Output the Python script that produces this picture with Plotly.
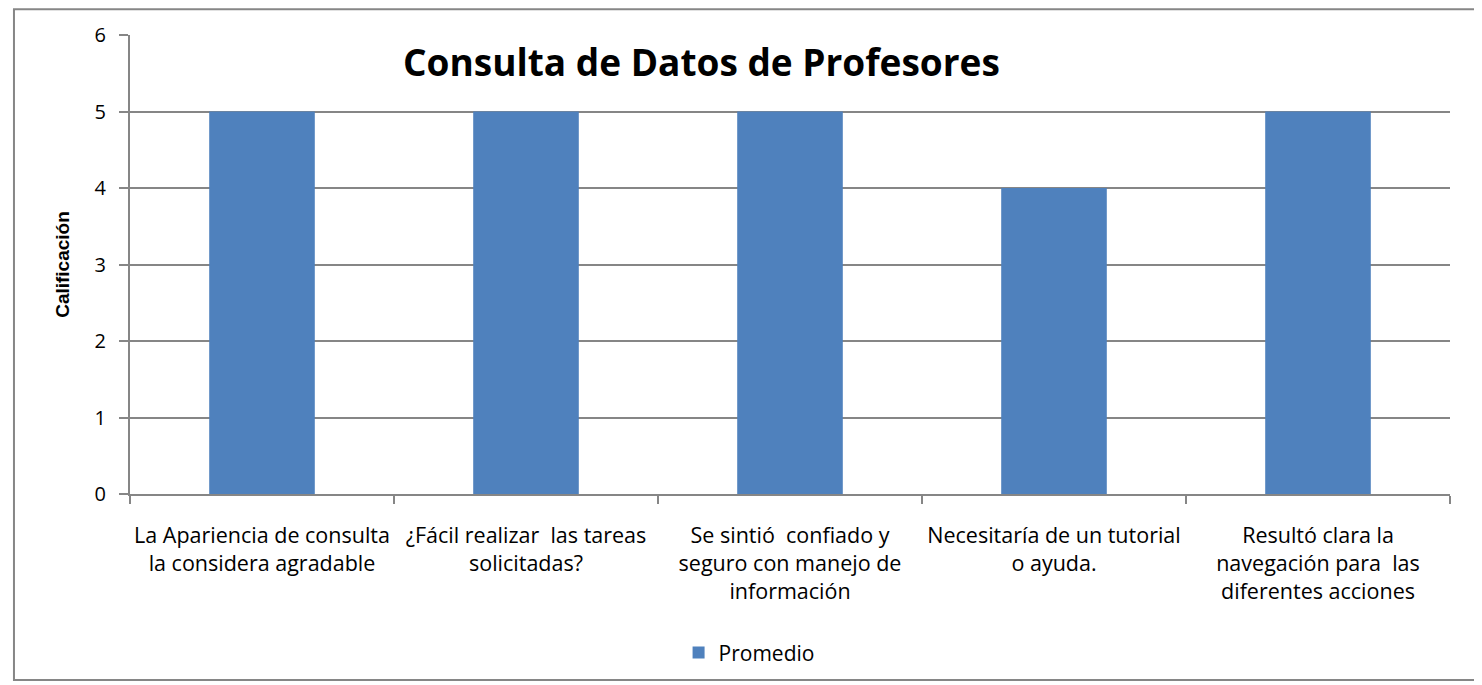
import plotly.graph_objects as go

categories = [
    "La Apariencia de consulta<br>la considera agradable",
    "¿Fácil realizar  las tareas<br>solicitadas?",
    "Se sintió  confiado y<br>seguro con manejo de<br>información",
    "Necesitaría de un tutorial<br>o ayuda.",
    "Resultó clara la<br>navegación para  las<br>diferentes acciones",
]
promedio = [5, 5, 5, 4, 5]

font_family = "'Open Sans', sans-serif"
grid_color = "#868686"

fig = go.Figure()
fig.add_trace(go.Bar(
    x=categories,
    y=promedio,
    name="Promedio",
    marker=dict(color="#4F81BD", line=dict(width=0)),
    width=0.4,
))

# the page body adds an 8px offset, so the figure is a little smaller
fig.update_layout(
    width=1474,
    height=677,
    margin=dict(l=122, r=32, t=27, b=188),
    plot_bgcolor="white",
    paper_bgcolor="white",
    font=dict(family=font_family, size=21, color="black"),
    showlegend=True,
    legend=dict(
        orientation="h", x=0.469, xanchor="center", y=-0.346, yanchor="middle",
        font=dict(size=21), itemwidth=30,
    ),
)

fig.update_yaxes(
    range=[0, 6],
    dtick=1,
    showgrid=True,
    gridcolor=grid_color,
    gridwidth=2,
    showline=True,
    linecolor=grid_color,
    linewidth=2,
    ticks="outside",
    ticklen=9,
    tickwidth=2,
    tickcolor=grid_color,
    ticklabelstandoff=9,
    tickfont=dict(size=20),
    zeroline=False,
    title=dict(text="<b>Calificación</b>",
               font=dict(size=19, family="'Liberation Sans', Arial, sans-serif"),
               standoff=20),
)
fig.update_xaxes(
    showline=True,
    linecolor=grid_color,
    linewidth=2,
    ticks="outside",
    tickson="boundaries",
    ticklen=8,
    tickwidth=2,
    tickcolor=grid_color,
    tickangle=0,
    ticklabelstandoff=21,
    tickfont=dict(size=21.5),
    showgrid=False,
)

fig.add_annotation(
    text="<b>Consulta de Datos de Profesores</b>",
    xref="paper", yref="paper",
    x=0.4326, y=0.9416, xanchor="center", yanchor="middle",
    showarrow=False,
    font=dict(size=37, family=font_family, color="black"),
)

# outer chart border
fig.add_shape(
    type="rect", xref="paper", yref="paper",
    x0=-0.0879, x1=1.0205, y0=-0.405, y1=1.0563,
    line=dict(color=grid_color, width=2),
    fillcolor="rgba(0,0,0,0)",
    layer="below",
)

fig.write_html("out.html")
